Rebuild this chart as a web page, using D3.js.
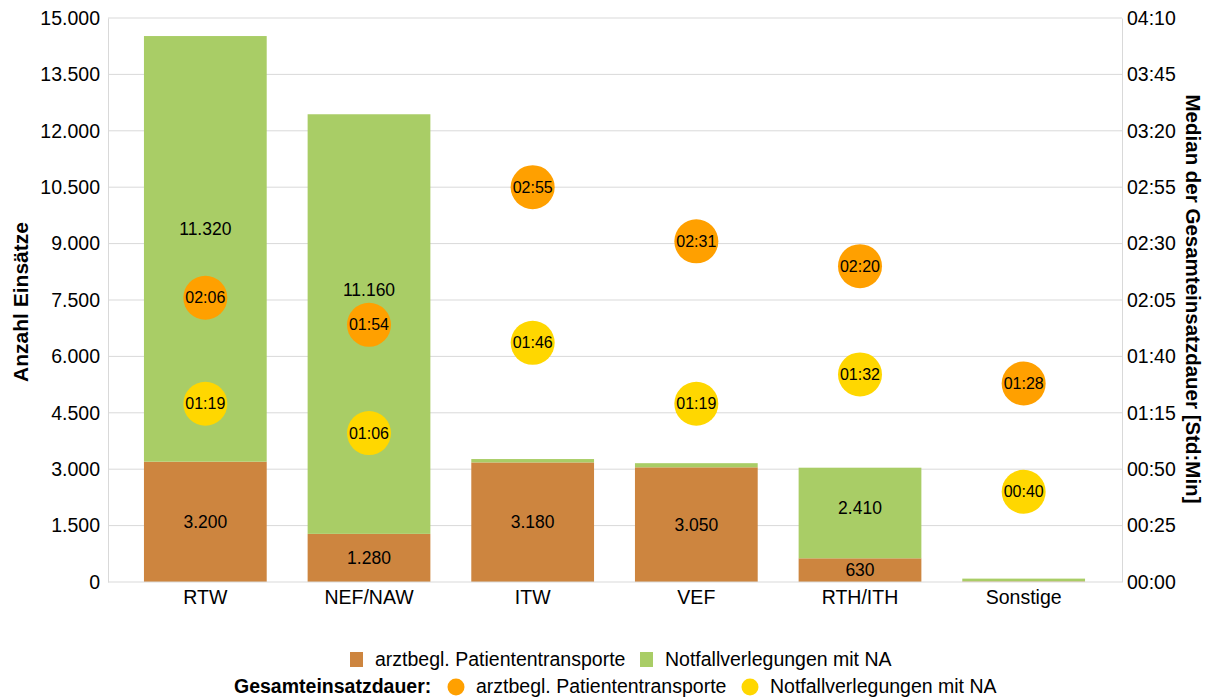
<!DOCTYPE html>
<html><head><meta charset="utf-8">
<script src="https://cdn.jsdelivr.net/npm/d3@7/dist/d3.min.js"></script>
<style>
body{margin:0;background:#fff;}
text{font-family:"Liberation Sans",Arial,sans-serif;fill:#000;}
</style></head>
<body><svg id="c" width="1209" height="698"></svg>
<script>
const categories = ["RTW","NEF/NAW","ITW","VEF","RTH/ITH","Sonstige"];
const arztbeglCount = [3200,1280,3180,3050,630,15];
const notfallCount = [11320,11160,90,110,2410,75];
const arztbeglLabels = ["3.200","1.280","3.180","3.050","630",""];
const notfallLabels = ["11.320","11.160","","","2.410",""];
const arztbeglMinutes = [126,114,175,151,140,88];
const notfallMinutes = [79,66,106,79,92,40];
const leftTicks = [0,1500,3000,4500,6000,7500,9000,10500,12000,13500,15000];
const rightTicks = [0,25,50,75,100,125,150,175,200,225,250];

const C = {brown:"#CD853F", green:"#A9CD66", orange:"#FFA000", yellow:"#FFD700", grid:"#D9D9D9"};
const notfallLabelNudge = [-20,-34,0,0,-5,0];

const svg = d3.select("#c");
const L=108, R=1122, T=18, B=582;
const x = d3.scaleBand().domain(categories).range([123.5,1105.5]).paddingInner(0.25).paddingOuter(0.125);
const y = d3.scaleLinear().domain([0,15000]).range([B,T]);
const y2 = d3.scaleLinear().domain([0,250]).range([B,T]);
const fmtTime = m => String(Math.floor(m/60)).padStart(2,"0")+":"+String(m%60).padStart(2,"0");
const fmtNum = d => d3.format(",")(d).replace(/,/g,".");

// grid
svg.append("g").selectAll("line").data(leftTicks.slice(1)).join("line")
  .attr("x1",L).attr("x2",R).attr("y1",d=>y(d)).attr("y2",d=>y(d))
  .attr("stroke",C.grid).attr("stroke-width",1);

// axes
const gl = svg.append("g").attr("transform",`translate(${L},0)`)
  .call(d3.axisLeft(y).tickValues(leftTicks).tickFormat(fmtNum).tickSize(0).tickPadding(8));
const gr = svg.append("g").attr("transform",`translate(${R},0)`)
  .call(d3.axisRight(y2).tickValues(rightTicks).tickFormat(fmtTime).tickSize(0).tickPadding(5));
[gl,gr].forEach(g=>{g.select(".domain").attr("stroke",C.grid);
  g.selectAll("text").attr("font-size",19.5).attr("font-family","Liberation Sans, Arial").attr("fill","#000");});

// bars
const stack = categories.map((c,i)=>({c,a:arztbeglCount[i],n:notfallCount[i],i}));
svg.append("g").selectAll("rect").data(stack).join("rect")
  .attr("x",d=>x(d.c)).attr("width",x.bandwidth())
  .attr("y",d=>y(d.a)).attr("height",d=>y(0)-y(d.a)).attr("fill",C.brown);
svg.append("g").selectAll("rect").data(stack).join("rect")
  .attr("x",d=>x(d.c)).attr("width",x.bandwidth())
  .attr("y",d=>y(d.a+d.n)).attr("height",d=>y(d.a)-y(d.a+d.n)).attr("fill",C.green);

// bottom axis
const gb = svg.append("g").attr("transform",`translate(0,${B})`)
  .call(d3.axisBottom(x).tickSize(0).tickPadding(8));
gb.select(".domain").attr("d",`M${L},0H${R}`).attr("stroke",C.grid);
gb.selectAll("text").attr("font-size",19.5).attr("font-family","Liberation Sans, Arial").attr("fill","#000");

// bar labels
svg.append("g").selectAll("text").data(stack).join("text")
  .attr("x",d=>x(d.c)+x.bandwidth()/2).attr("y",d=>(y(0)+y(d.a))/2)
  .attr("dy","0.35em").attr("text-anchor","middle").attr("font-size",17.5)
  .text(d=>arztbeglLabels[d.i]);
svg.append("g").selectAll("text").data(stack).join("text")
  .attr("x",d=>x(d.c)+x.bandwidth()/2).attr("y",d=>(y(d.a)+y(d.a+d.n))/2+notfallLabelNudge[d.i])
  .attr("dy","0.35em").attr("text-anchor","middle").attr("font-size",17.5)
  .text(d=>notfallLabels[d.i]);

// points
function pts(vals,col){
  const g = svg.append("g");
  g.selectAll("circle").data(vals).join("circle")
    .attr("cx",(d,i)=>x(categories[i])+x.bandwidth()/2).attr("cy",d=>y2(d)).attr("r",22).attr("fill",col);
  g.selectAll("text").data(vals).join("text")
    .attr("x",(d,i)=>x(categories[i])+x.bandwidth()/2).attr("y",d=>y2(d)).attr("dy","0.35em")
    .attr("text-anchor","middle").attr("font-size",16).attr("fill","#1a1a1a").text(fmtTime);
}
pts(arztbeglMinutes,C.orange);
pts(notfallMinutes,C.yellow);

// axis titles
svg.append("text").attr("transform",`translate(28,302) rotate(-90)`).attr("text-anchor","middle")
  .attr("font-size",21).attr("font-weight","bold").text("Anzahl Einsätze");
svg.append("text").attr("transform",`translate(1186,299) rotate(90)`).attr("text-anchor","middle")
  .attr("font-size",20.5).attr("font-weight","bold").text("Median der Gesamteinsatzdauer [Std:Min]");

// legend
const lg = svg.append("g").attr("font-size",19.5);
lg.append("rect").attr("x",350).attr("y",652).attr("width",13).attr("height",15).attr("fill",C.brown);
lg.append("text").attr("x",375).attr("y",666).text("arztbegl. Patiententransporte");
lg.append("rect").attr("x",640).attr("y",652).attr("width",13).attr("height",15).attr("fill",C.green);
lg.append("text").attr("x",665).attr("y",666).text("Notfallverlegungen mit NA");
lg.append("text").attr("x",234).attr("y",693).attr("font-weight","bold").text("Gesamteinsatzdauer:");
lg.append("circle").attr("cx",456).attr("cy",687).attr("r",8.5).attr("fill",C.orange);
lg.append("text").attr("x",476).attr("y",693).text("arztbegl. Patiententransporte");
lg.append("circle").attr("cx",750).attr("cy",687).attr("r",8.5).attr("fill",C.yellow);
lg.append("text").attr("x",770).attr("y",693).text("Notfallverlegungen mit NA");
</script></body></html>
